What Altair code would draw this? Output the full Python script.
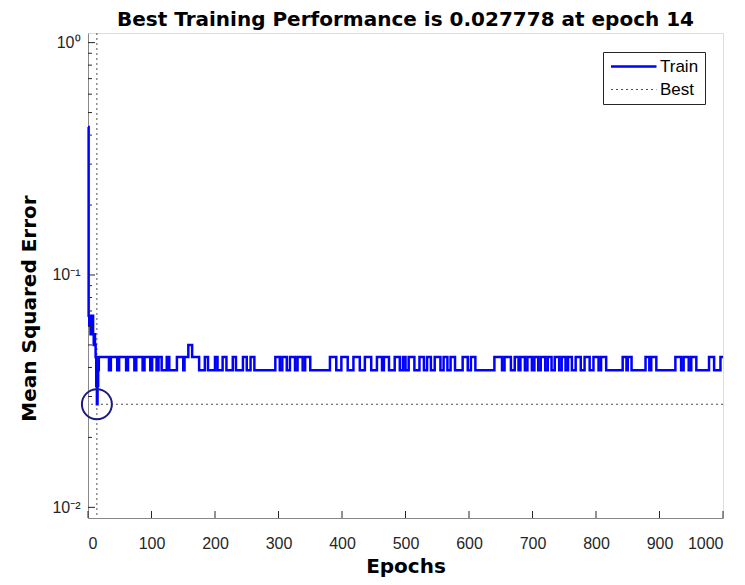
import altair as alt
import pandas as pd

title_text = "Best Training Performance is 0.027778 at epoch 14"
best_epoch = 14
best_perf = 0.027778

# Train MSE: epochs where the value changes, and the value from that epoch on
train_epochs = [0, 1, 2, 3, 4, 5, 6, 7, 8, 9, 10, 11, 12, 13, 14, 15, 16, 17,
                33, 36, 46, 49, 60, 63, 73, 76, 86, 89, 98, 101, 108, 111,
                116, 124, 128, 140, 150, 152, 158, 164, 175, 184, 189, 200,
                204, 212, 218, 228, 233, 244, 250, 256, 262,
                295, 302, 306, 313, 318, 326, 330, 338, 342, 350,
                381, 391, 399, 409, 418, 428, 436, 446, 455, 463, 466, 474,
                483, 491, 496, 500, 505, 514, 522, 529, 534, 540, 546, 555,
                560, 566, 571, 578, 590, 598, 603, 610,
                640, 652, 656, 666, 672, 678, 681, 688, 692, 699, 703, 709,
                713, 720, 724, 730, 735, 742, 746, 752, 756, 762, 768, 776,
                782, 790, 796, 804, 808, 816,
                842, 848, 850, 856, 878, 884, 887, 895,
                925, 934, 938, 946, 950, 958, 978, 986, 996, 1000]
train_mse = [0.433, 0.0667, 0.0611, 0.0667, 0.0556, 0.0611, 0.0556, 0.0667,
             0.0556, 0.05, 0.0556, 0.05, 0.0444, 0.0333, 0.027778, 0.0333,
             0.0389, 0.0444,
             0.0389, 0.0444, 0.0389, 0.0444, 0.0389, 0.0444, 0.0389, 0.0444,
             0.0389, 0.0444, 0.0389, 0.0444, 0.0389, 0.0444,
             0.0389, 0.0444, 0.0389, 0.0444, 0.0389, 0.0444, 0.05, 0.0444,
             0.0389, 0.0444, 0.0389, 0.0444,
             0.0389, 0.0444, 0.0389, 0.0444, 0.0389, 0.0444, 0.0389, 0.0444,
             0.0389,
             0.0444, 0.0389, 0.0444, 0.0389, 0.0444, 0.0389, 0.0444, 0.0389,
             0.0444, 0.0389,
             0.0444, 0.0389, 0.0444, 0.0389, 0.0444, 0.0389, 0.0444, 0.0389,
             0.0444, 0.0389, 0.0444, 0.0389,
             0.0444, 0.0389, 0.0444, 0.0389, 0.0444, 0.0389, 0.0444, 0.0389,
             0.0444, 0.0389, 0.0444, 0.0389,
             0.0444, 0.0389, 0.0444, 0.0389, 0.0444, 0.0389, 0.0444, 0.0389,
             0.0444, 0.0389, 0.0444, 0.0389, 0.0444, 0.0389, 0.0444, 0.0389,
             0.0444, 0.0389, 0.0444, 0.0389, 0.0444, 0.0389, 0.0444, 0.0389,
             0.0444, 0.0389, 0.0444, 0.0389, 0.0444, 0.0389, 0.0444, 0.0389,
             0.0444, 0.0389, 0.0444, 0.0389, 0.0444, 0.0389,
             0.0444, 0.0389, 0.0444, 0.0389, 0.0444, 0.0389, 0.0444, 0.0389,
             0.0444, 0.0389, 0.0444, 0.0389, 0.0444, 0.0389, 0.0444, 0.0389,
             0.0444, 0.0444]

x_ticks = [0, 100, 200, 300, 400, 500, 600, 700, 800, 900, 1000]
y_major = [0.01, 0.1, 1.0]
y_minor = [0.02, 0.03, 0.04, 0.05, 0.06, 0.07, 0.08, 0.09,
           0.2, 0.3, 0.4, 0.5, 0.6, 0.7, 0.8, 0.9]
series_names = ["Train", "Best"]

W, H = 635, 485
FONT = "Liberation Sans"
TFONT = "DejaVu Sans"
AX = "#262626"

train_df = pd.DataFrame({"epoch": train_epochs, "mse": train_mse,
                         "series": "Train"})
best_h_df = pd.DataFrame({"mse": [best_perf], "series": ["Best"]})
best_v_df = pd.DataFrame({"epoch": [best_epoch], "series": ["Best"]})
circle_df = pd.DataFrame({"epoch": [best_epoch], "mse": [best_perf]})
xt_df = pd.DataFrame({"epoch": x_ticks})
ymaj_df = pd.DataFrame({"mse": y_major})
ymin_df = pd.DataFrame({"mse": y_minor})

x_scale = alt.Scale(domain=[0, 1000], nice=False, zero=False)
y_scale = alt.Scale(type="log", domain=[0.009, 1.1], nice=False)

x_enc = alt.X("epoch:Q", scale=x_scale,
              axis=alt.Axis(values=x_ticks, ticks=False, grid=False,
                            format="d", title="Epochs",
                            labelFontSize=16, labelFont=FONT,
                            labelColor=AX, labelPadding=17,
                            titleFont=TFONT, titleFontSize=20,
                            titleFontWeight="bold", titleColor="#000000",
                            titlePadding=5))
y_enc = alt.Y("mse:Q", scale=y_scale,
              axis=alt.Axis(values=y_major, ticks=False, grid=False,
                            title="Mean Squared Error",
                            labelFontSize=16, labelFont=FONT,
                            labelColor=AX, labelPadding=8,
                            titleFont=TFONT, titleFontSize=20,
                            titleFontWeight="bold", titleColor="#000000",
                            titlePadding=12, titleY=275,
                            labelExpr="datum.value >= 0.99 ? '10⁰' : datum.value >= 0.099 ? '10⁻¹' : '10⁻²'"))

legend_opts = dict(title=None, orient="none", legendX=515, legendY=19,
                   symbolType="M-1,0H6", symbolSize=169,
                   labelFontSize=17, labelFont=FONT, labelColor="#000000",
                   labelOffset=34, strokeColor=AX, fillColor="white",
                   padding=6, rowPadding=5)

color_enc = alt.Color("series:N",
                      scale=alt.Scale(domain=series_names,
                                      range=["#0000ff", "#505050"]),
                      legend=alt.Legend(**legend_opts))
dash_enc = alt.StrokeDash("series:N",
                          scale=alt.Scale(domain=series_names,
                                          range=[[1, 0], [2, 3]]),
                          legend=alt.Legend(**legend_opts))
width_enc = alt.StrokeWidth("series:N",
                            scale=alt.Scale(domain=series_names,
                                            range=[2.5, 1]),
                            legend=alt.Legend(**legend_opts))

line = alt.Chart(train_df).mark_line(interpolate="step-after").encode(
    x=x_enc, y=y_enc, color=color_enc, strokeDash=dash_enc,
    strokeWidth=width_enc)

best_h = alt.Chart(best_h_df).mark_rule().encode(
    y=alt.Y("mse:Q", scale=y_scale), color=color_enc, strokeDash=dash_enc,
    strokeWidth=width_enc)
best_v = alt.Chart(best_v_df).mark_rule().encode(
    x=alt.X("epoch:Q", scale=x_scale), color=color_enc, strokeDash=dash_enc,
    strokeWidth=width_enc)

circle = alt.Chart(circle_df).mark_point(shape="circle", filled=False,
                                         size=900, color="#1a1a80",
                                         strokeWidth=2, opacity=1).encode(
    x=alt.X("epoch:Q", scale=x_scale), y=alt.Y("mse:Q", scale=y_scale))

xticks = alt.Chart(xt_df).mark_rule(color=AX, strokeWidth=1).encode(
    x=alt.X("epoch:Q", scale=x_scale), y=alt.value(H), y2=alt.value(H - 7))
ymaj = alt.Chart(ymaj_df).mark_rule(color=AX, strokeWidth=1).encode(
    y=alt.Y("mse:Q", scale=y_scale), x=alt.value(0), x2=alt.value(7))
ymin = alt.Chart(ymin_df).mark_rule(color=AX, strokeWidth=1).encode(
    y=alt.Y("mse:Q", scale=y_scale), x=alt.value(0), x2=alt.value(4))

chart = alt.layer(best_h, best_v, line, circle, xticks, ymaj, ymin).properties(
    width=W, height=H,
    title=alt.TitleParams(title_text, fontSize=20, font=TFONT,
                          fontWeight="bold", color="#000000", offset=3),
    autosize=alt.AutoSizeParams(type="none"),
    padding={"left": 80, "top": 25, "right": 14, "bottom": 59},
).configure_view(stroke=None).configure_axis(
    domainColor=AX, domainWidth=1
).configure(background="white")

chart.save("out.html", embed_options={"renderer": "svg", "actions": False})
